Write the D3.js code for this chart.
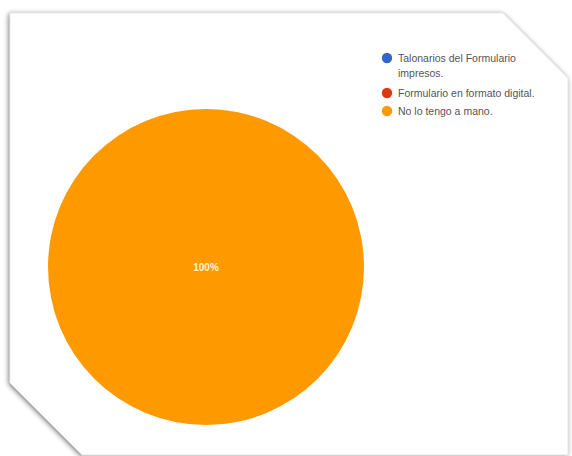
<!DOCTYPE html>
<html>
<head>
<meta charset="utf-8">
<script src="https://cdn.jsdelivr.net/npm/d3@7/dist/d3.min.js"></script>
<style>
  html, body { margin: 0; padding: 0; background: #fff; }
  svg { display: block; }
</style>
</head>
<body>
<script>
// answers (Google Forms style pie)
var categories = ["Talonarios del Formulario impresos.", "Formulario en formato digital.", "No lo tengo a mano."];
var legendLines = [["Talonarios del Formulario", "impresos."], ["Formulario en formato digital."], ["No lo tengo a mano."]];
var values = [0, 0, 100];
var colors = ["#3366cc", "#dc3912", "#ff9900"];

var width = 572;
var height = 456;

var svg = d3.select("body").append("svg")
    .attr("width", width)
    .attr("height", height);

var defs = svg.append("defs");
var shadow = defs.append("filter").attr("id", "shadow")
    .attr("x", "-10%").attr("y", "-10%").attr("width", "120%").attr("height", "120%");
shadow.append("feDropShadow")
    .attr("dx", -1).attr("dy", 1)
    .attr("stdDeviation", 2.5)
    .attr("flood-color", "#000")
    .attr("flood-opacity", 0.55);

// paper sheet with cut corners
var sheet = [[10, 13], [503, 13], [568, 78], [568, 455], [82, 455], [10, 383]];
svg.append("polygon")
    .attr("points", sheet.map(function(p) { return p.join(","); }).join(" "))
    .attr("fill", "#fff")
    .attr("stroke", "#d8d8d8")
    .attr("stroke-width", 0.6)
    .attr("filter", "url(#shadow)");

// pie
var cx = 206, cy = 267, r = 158;
var pie = d3.pie().sort(null).value(function(d) { return d; });
var arc = d3.arc().innerRadius(0).outerRadius(r);
var total = d3.sum(values);

var g = svg.append("g").attr("transform", "translate(" + cx + "," + cy + ")");
var arcs = pie(values);

g.selectAll("path")
    .data(arcs.filter(function(d) { return d.value > 0; }))
    .enter().append("path")
    .attr("d", arc)
    .attr("fill", function(d) { return colors[d.index]; });

g.selectAll("text")
    .data(arcs.filter(function(d) { return d.value > 0; }))
    .enter().append("text")
    .attr("transform", function(d) {
      // a single full slice puts its label at the centre
      if (d.endAngle - d.startAngle >= 2 * Math.PI - 1e-6) return "translate(0,0)";
      return "translate(" + d3.arc().innerRadius(r * 0.6).outerRadius(r * 0.6).centroid(d) + ")";
    })
    .attr("dy", "0.35em")
    .attr("text-anchor", "middle")
    .attr("font-family", "Arial, 'Liberation Sans', sans-serif")
    .attr("font-size", 10)
    .attr("font-weight", "bold")
    .attr("fill", "#fff")
    .attr("fill-opacity", 0.9)
    .text(function(d) { return d3.format(".0%")(d.value / total); });

// legend
var legendY = [58, 93, 111];
var legend = svg.append("g").attr("class", "legend");
var item = legend.selectAll("g")
    .data(categories)
    .enter().append("g")
    .attr("transform", function(d, i) { return "translate(387," + legendY[i] + ")"; });

item.append("circle")
    .attr("r", 5.2)
    .attr("fill", function(d, i) { return colors[i]; });

item.append("text")
    .attr("x", 11)
    .attr("font-family", "Arial, 'Liberation Sans', sans-serif")
    .attr("font-size", 10.5)
    .attr("fill", "#555")
    .selectAll("tspan")
    .data(function(d, i) { return legendLines[i]; })
    .enter().append("tspan")
    .attr("x", 11)
    .attr("dy", function(d, j) { return j === 0 ? "0.35em" : 15; })
    .text(function(d) { return d; });
</script>
</body>
</html>
